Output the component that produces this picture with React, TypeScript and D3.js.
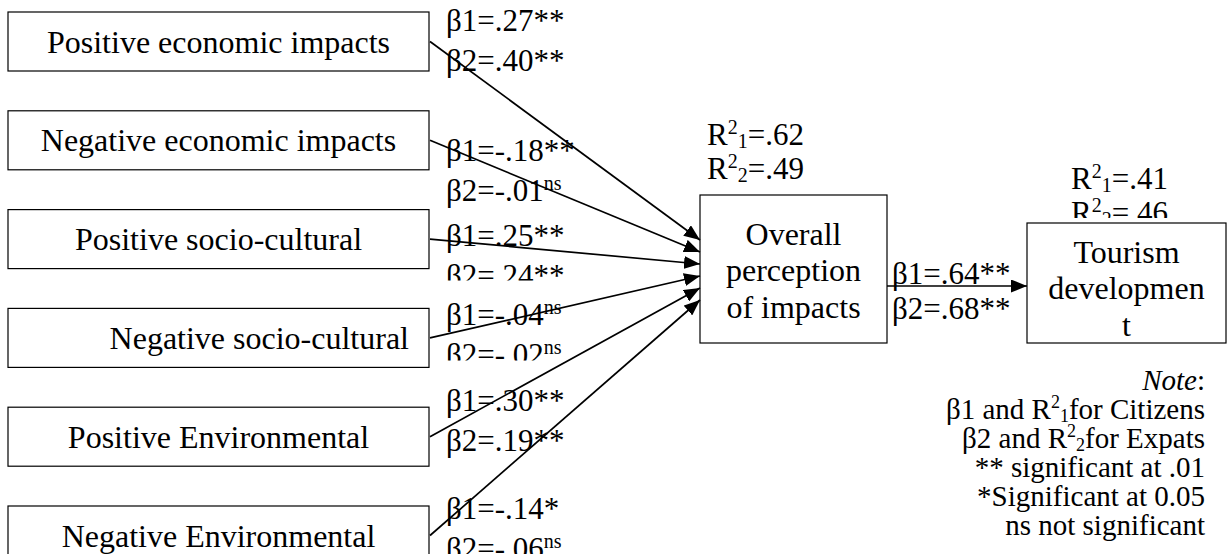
import React, { useEffect, useRef } from 'react'
import * as d3 from 'd3'

// predictors (left column) and their path coefficients
const predictors = [
  'Positive economic impacts',
  'Negative economic impacts',
  'Positive socio-cultural',
  'Negative socio-cultural',
  'Positive Environmental',
  'Negative Environmental',
]
const beta1 = [0.27, -0.18, 0.25, -0.04, 0.3, -0.14]
const sig1 = ['**', '**', '**', 'ns', '**', '*']
const beta2 = [0.4, -0.01, 0.24, -0.02, 0.19, -0.06]
const sig2 = ['**', 'ns', '**', 'ns', '**', 'ns']

// mediator -> outcome
const mediatorLines = ['Overall', 'perception', 'of impacts']
const outcomeLines = ['Tourism', 'developmen', 't']
const mediatorR2 = [0.62, 0.49]
const outcomeR2 = [0.41, 0.46]
const pathBeta = [0.64, 0.68]
const pathSig = ['**', '**']

// note block
const groups = ['Citizens', 'Expats']
const sigNotes = ['** significant at .01', '*Significant at 0.05', 'ns not significant']

const W = 1228
const H = 554
const FONT = "'Liberation Serif', 'Times New Roman', Times, serif"

// label placement tweaks (layout only)
const labelDy = [19, 50, 36, 17, 4, 13]
const labelClipped = [false, false, true, true, false, true]
const labelAlign = ['middle', 'middle', 'middle', 'end', 'middle', 'middle']

// plain hyphen for negatives, no leading zero
const locale = d3.formatLocale({ decimal: '.', thousands: ',', grouping: [3], currency: ['', ''], minus: '-' })
const fmt = (v: number) => locale.format('.2f')(v).replace('0.', '.')

const draw = (el: SVGSVGElement) => {
  const svg = d3.select(el)
  svg.selectAll('*').remove()
  svg.attr('font-family', FONT).attr('fill', '#000')

  const defs = svg.append('defs')
  defs
    .append('marker')
    .attr('id', 'arrow')
    .attr('viewBox', '0 0 16 13')
    .attr('refX', 16)
    .attr('refY', 6.5)
    .attr('markerWidth', 16)
    .attr('markerHeight', 13)
    .attr('markerUnits', 'userSpaceOnUse')
    .attr('orient', 'auto')
    .append('path')
    .attr('d', 'M0,0L16,6.5L0,13Z')
    .attr('fill', '#000')

  // layout
  const boxX0 = 8
  const boxX1 = 429
  const boxH = 59
  const boxTop = d3.scaleLinear().domain([0, predictors.length - 1]).range([12, 506])
  const med = { x0: 700, x1: 887, y0: 195, y1: 343 }
  const out = { x0: 1027, x1: 1226, y0: 223, y1: 343 }
  const targetY = d3.scaleLinear().domain([0, predictors.length - 1]).range([240, 300])
  const lineGap = 36.5
  const betaGap = 40

  const addSig = (t: any, s: string) => {
    if (s === 'ns') t.append('tspan').attr('font-size', 20).attr('dy', -11).text('ns')
    else t.append('tspan').text(s)
  }
  const addR2 = (t: any, idx: string) => {
    t.append('tspan').text('R')
    t.append('tspan').attr('font-size', 20).attr('dy', -11).text('2')
    t.append('tspan').attr('font-size', 20).attr('dy', 14).text(idx)
  }

  // predictor boxes
  const left = svg.append('g')
  predictors.forEach((name, i) => {
    const y = boxTop(i)
    left
      .append('rect')
      .attr('x', boxX0)
      .attr('y', y)
      .attr('width', boxX1 - boxX0)
      .attr('height', boxH)
      .attr('fill', '#fff')
      .attr('stroke', '#000')
      .attr('stroke-width', 1.2)
    const anchor = labelAlign[i]
    left
      .append('text')
      .attr('x', anchor === 'end' ? boxX1 - 20 : (boxX0 + boxX1) / 2)
      .attr('y', y + boxH / 2 + 11)
      .attr('text-anchor', anchor)
      .attr('font-size', 32)
      .text(name)
  })

  // beta labels for each predictor path
  const labels = svg.append('g').attr('font-size', 31)
  predictors.forEach((_, i) => {
    const b1 = boxTop(i) + labelDy[i]
    const b2 = b1 + betaGap
    const x = boxX1 + 17
    const g = labels.append('g')
    if (labelClipped[i]) {
      defs
        .append('clipPath')
        .attr('id', `clip-${i}`)
        .append('rect')
        .attr('x', x - 5)
        .attr('y', b1 - 40)
        .attr('width', 220)
        .attr('height', b2 - 5 - (b1 - 40))
      g.attr('clip-path', `url(#clip-${i})`)
    }
    const t1 = g.append('text').attr('x', x).attr('y', b1).text(`β1=${fmt(beta1[i])}`)
    addSig(t1, sig1[i])
    const t2 = g.append('text').attr('x', x).attr('y', b2).text(`β2=${fmt(beta2[i])}`)
    addSig(t2, sig2[i])
  })

  // R² labels
  defs
    .append('clipPath')
    .attr('id', 'clip-med')
    .append('rect')
    .attr('x', med.x0)
    .attr('y', 100)
    .attr('width', 200)
    .attr('height', med.y0 - 13 - 100)
  defs
    .append('clipPath')
    .attr('id', 'clip-out')
    .append('rect')
    .attr('x', out.x0)
    .attr('y', 150)
    .attr('width', 200)
    .attr('height', out.y0 - 5 - 150)

  const medR = svg.append('g').attr('font-size', 31).attr('clip-path', 'url(#clip-med)')
  mediatorR2.forEach((v, i) => {
    const t = medR.append('text').attr('x', med.x0 + 7).attr('y', 145 + i * 34)
    addR2(t, String(i + 1))
    t.append('tspan').attr('dy', -3).text(`=${fmt(v)}`)
  })
  const outR = svg.append('g').attr('font-size', 31).attr('clip-path', 'url(#clip-out)')
  outcomeR2.forEach((v, i) => {
    const t = outR.append('text').attr('x', out.x0 + 44).attr('y', 189 + i * 34)
    addR2(t, String(i + 1))
    t.append('tspan').attr('dy', -3).text(`=${fmt(v)}`)
  })

  // mediator and outcome boxes
  ;[
    { b: med, lines: mediatorLines, dy: 12 },
    { b: out, lines: outcomeLines, dy: 16 },
  ].forEach(({ b, lines, dy }) => {
    svg
      .append('rect')
      .attr('x', b.x0)
      .attr('y', b.y0)
      .attr('width', b.x1 - b.x0)
      .attr('height', b.y1 - b.y0)
      .attr('fill', '#fff')
      .attr('stroke', '#000')
      .attr('stroke-width', 1.2)
    const cy = (b.y0 + b.y1) / 2
    lines.forEach((ln, j) => {
      svg
        .append('text')
        .attr('x', (b.x0 + b.x1) / 2)
        .attr('y', cy + (j - (lines.length - 1) / 2) * lineGap + dy)
        .attr('text-anchor', 'middle')
        .attr('font-size', 32)
        .text(ln)
    })
  })

  // mediator -> outcome labels
  pathBeta.forEach((v, i) => {
    const t = svg
      .append('text')
      .attr('x', med.x1 + 5)
      .attr('y', 284 + i * 35)
      .attr('font-size', 31)
      .text(`β${i + 1}=${fmt(v)}`)
    addSig(t, pathSig[i])
  })

  // note block
  const note = svg.append('g').attr('font-size', 29).attr('text-anchor', 'end')
  const noteX = 1205
  const noteY = (k: number) => 390 + k * 29
  const n0 = note.append('text').attr('x', noteX).attr('y', noteY(0))
  n0.append('tspan').attr('font-style', 'italic').text('Note')
  n0.append('tspan').text(':')
  groups.forEach((gname, i) => {
    const t = note.append('text').attr('x', noteX).attr('y', noteY(i + 1))
    t.append('tspan').text(`β${i + 1} and R`)
    t.append('tspan').attr('font-size', 18).attr('dy', -11).text('2')
    t.append('tspan').attr('font-size', 18).attr('dy', 14).text(String(i + 1))
    t.append('tspan').attr('dy', -3).text(`for ${gname}`)
  })
  sigNotes.forEach((s, i) => {
    note.append('text').attr('x', noteX).attr('y', noteY(i + 3)).text(s)
  })

  // arrows
  const arrows = svg.append('g').attr('stroke', '#000').attr('stroke-width', 1.7)
  predictors.forEach((_, i) => {
    arrows
      .append('line')
      .attr('x1', boxX1 + 1)
      .attr('y1', boxTop(i) + boxH / 2)
      .attr('x2', med.x0)
      .attr('y2', targetY(i))
      .attr('marker-end', 'url(#arrow)')
  })
  arrows
    .append('line')
    .attr('x1', med.x1)
    .attr('y1', 286)
    .attr('x2', out.x0)
    .attr('y2', 286)
    .attr('marker-end', 'url(#arrow)')
}

const App = () => {
  const ref = useRef<SVGSVGElement>(null)
  useEffect(() => {
    if (ref.current) draw(ref.current)
  }, [])
  return (
    <svg
      ref={ref}
      width={W}
      height={H}
      style={{ position: 'absolute', left: 0, top: 0, background: '#fff' }}
    />
  )
}

export default App
